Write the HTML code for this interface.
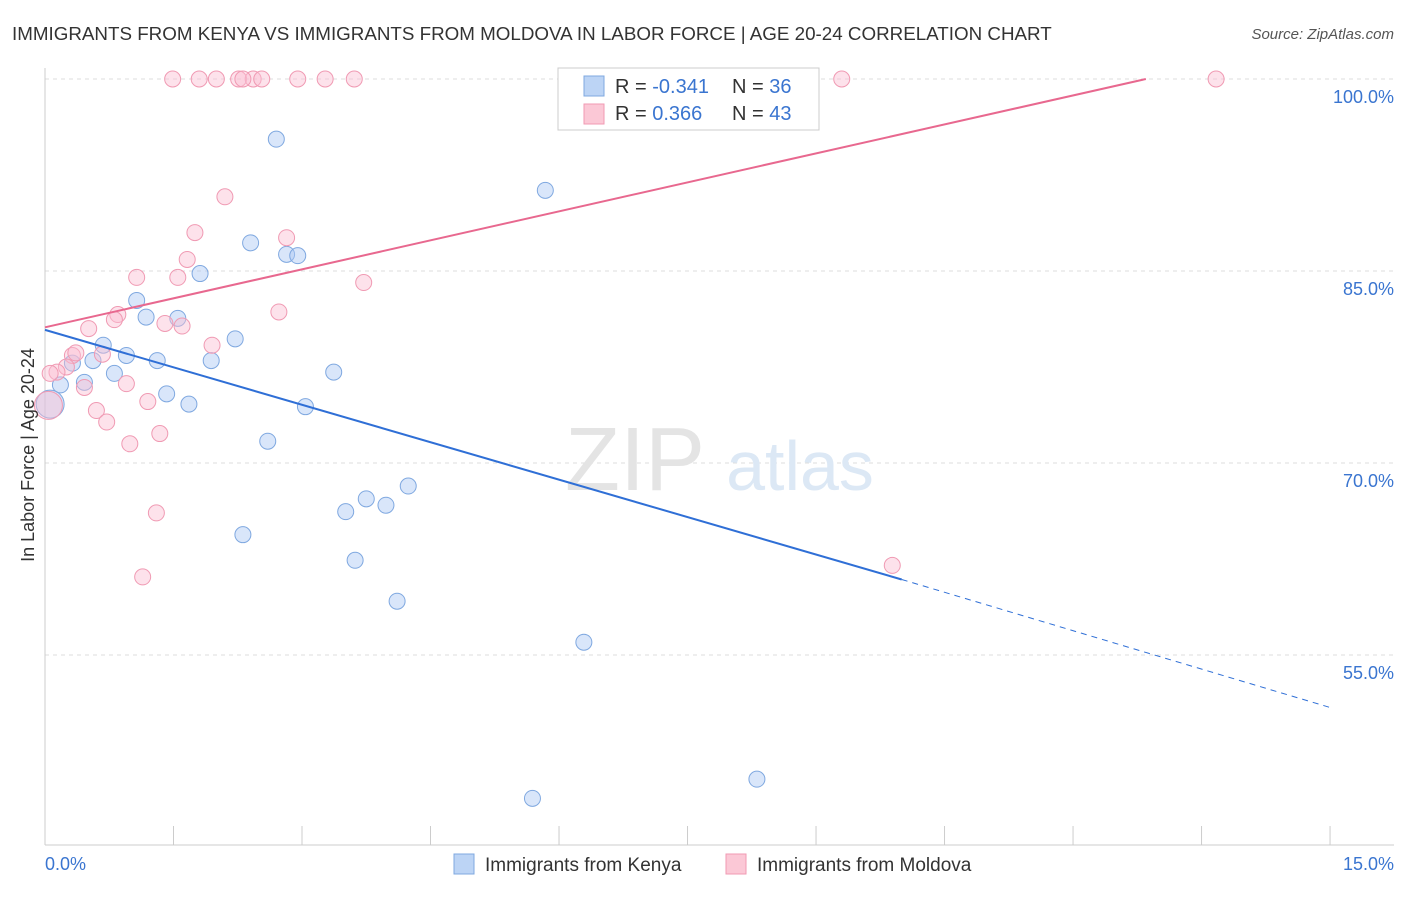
<!DOCTYPE html>
<html><head><meta charset="utf-8"><style>
body{margin:0;background:#fff;font-family:"Liberation Sans",sans-serif;}
svg text{font-family:"Liberation Sans",sans-serif;}
</style></head><body>
<svg width="1406" height="892">
<text x="12" y="40" font-size="18.8" fill="#333">IMMIGRANTS FROM KENYA VS IMMIGRANTS FROM MOLDOVA IN LABOR FORCE | AGE 20-24 CORRELATION CHART</text>
<text x="1394" y="39" font-size="15" fill="#555" text-anchor="end" font-style="italic">Source: ZipAtlas.com</text>
<g id="grid"></g>
<text x="635" y="490" font-size="90" fill="#e4e4e4" font-family="Liberation Serif" text-anchor="middle">ZIP</text>
<text x="800" y="490" font-size="70" fill="#dce8f5" text-anchor="middle">atlas</text>
<g id="axes"></g>
<g id="pts"></g>
<g id="lines"></g>
<text x="34" y="455" font-size="18" fill="#333" text-anchor="middle" transform="rotate(-90 34 455)">In Labor Force | Age 20-24</text>
<text x="45" y="870" font-size="18" fill="#3a75d0">0.0%</text>
<text x="1394" y="870" font-size="18" fill="#3a75d0" text-anchor="end">15.0%</text>
<g>
<rect x="558" y="68" width="261" height="62" fill="#fff" stroke="#ccc"/>
<rect x="584" y="76" width="20" height="20" fill="#bcd4f5" stroke="#7fa8e0"/>
<rect x="584" y="104" width="20" height="20" fill="#fbc8d6" stroke="#f09ab3"/>
<text x="615" y="93" font-size="20" fill="#333">R = <tspan fill="#3a75d0">-0.341</tspan></text>
<text x="732" y="93" font-size="20" fill="#333">N = <tspan fill="#3a75d0">36</tspan></text>
<text x="615" y="120" font-size="20" fill="#333">R = <tspan fill="#3a75d0"> 0.366</tspan></text>
<text x="732" y="120" font-size="20" fill="#333">N = <tspan fill="#3a75d0">43</tspan></text>
</g>
<g>
<rect x="454" y="854" width="20" height="20" fill="#bcd4f5" stroke="#7fa8e0"/>
<text x="485" y="871" font-size="19" fill="#333">Immigrants from Kenya</text>
<rect x="726" y="854" width="20" height="20" fill="#fbc8d6" stroke="#f09ab3"/>
<text x="757" y="871" font-size="19" fill="#333">Immigrants from Moldova</text>
</g>
</svg>
<script>
const yTicks=[100,85,70,55];
const yTickLabels=["100.0%","85.0%","70.0%","55.0%"];
const kenyaX=[2.7,5.84,2.4,2.82,2.95,1.81,1.07,1.18,1.55,2.22,0.68,0.95,0.56,1.31,1.94,0.32,0.81,3.37,0.46,0.18,0.06,1.42,1.68,3.04,2.6,4.24,3.75,3.51,3.98,2.31,3.62,4.11,6.29,8.31,5.69,7.81];
const kenyaY=[95.3,91.3,87.2,86.3,86.2,84.8,82.7,81.4,81.3,79.7,79.2,78.4,78.0,78.0,78.0,77.8,77.0,77.1,76.3,76.1,74.6,75.4,74.6,74.4,71.7,68.2,67.2,66.2,66.7,64.4,62.4,59.2,56.0,45.3,43.8,100];
const moldovaX=[1.49,1.80,2.0,2.26,2.43,2.53,2.95,3.27,3.61,9.30,13.67,2.31,2.10,1.75,2.82,1.07,1.66,1.55,3.72,2.73,0.85,0.81,1.40,1.60,0.51,1.95,0.32,0.36,0.67,0.25,0.14,0.06,0.95,0.46,1.20,0.60,0.72,1.34,0.99,1.30,1.14,9.89,0.04];
const moldovaY=[100,100,100,100,100,100,100,100,100,100,100,100,90.8,88.0,87.6,84.5,85.9,84.5,84.1,81.8,81.6,81.2,80.9,80.7,80.5,79.2,78.4,78.6,78.5,77.5,77.1,77.0,76.2,75.9,74.8,74.1,73.2,72.3,71.5,66.1,61.1,62.0,74.5];
const kenyaTrend=[0,80.4,10.0,60.9,15,50.9];
const moldovaTrend=[0,80.6,12.85,100];
const X=v=>45+v*85.67, Y=v=>79+(100-v)*12.8;
const ns="http://www.w3.org/2000/svg";
function mk(t,a,p){const e=document.createElementNS(ns,t);for(const k in a)e.setAttribute(k,a[k]);document.getElementById(p).appendChild(e);return e;}
yTicks.forEach((t,i)=>{
 const l=mk('line',{x1:45,x2:1394,y1:Y(t),y2:Y(t),stroke:'#ddd','stroke-dasharray':'4,4'},'grid');
 
 
 const tx=mk('text',{x:1394,y:Y(t)+24,'font-size':18,fill:'#3a75d0','text-anchor':'end'},'axes');
 tx.textContent=yTickLabels[i];
 
 
});
const ax=mk('line',{x1:45,x2:45,y1:68,y2:845,stroke:'#ccc'},'axes');


const bx=mk('line',{x1:45,x2:1394,y1:845,y2:845,stroke:'#ccc'},'axes');


for(let i=0;i<=10;i++){const t=mk('line',{x1:X(i*1.5),x2:X(i*1.5),y1:826,y2:845,stroke:'#ccc'},'axes');
 
 }
kenyaX.forEach((x,i)=>{const r=i==20?14:8;const c=mk('circle',{cx:X(x),cy:Y(kenyaY[i]),r:r,fill:'rgba(170,200,245,0.45)',stroke:'#7fa8e0','stroke-width':1},'pts');
 
 });
moldovaX.forEach((x,i)=>{const r=i==42?14:8;const c=mk('circle',{cx:X(x),cy:Y(moldovaY[i]),r:r,fill:'rgba(250,190,210,0.45)',stroke:'#f09ab3','stroke-width':1},'pts');
 
 });
let l1=mk('line',{x1:X(kenyaTrend[0]),y1:Y(kenyaTrend[1]),x2:X(kenyaTrend[2]),y2:Y(kenyaTrend[3]),stroke:'#2f6fd6','stroke-width':2},'lines');


let l2=mk('line',{x1:X(kenyaTrend[2]),y1:Y(kenyaTrend[3]),x2:X(kenyaTrend[4]),y2:Y(kenyaTrend[5]),stroke:'#2f6fd6','stroke-width':1,'stroke-dasharray':'6,5'},'lines');


let l3=mk('line',{x1:X(moldovaTrend[0]),y1:Y(moldovaTrend[1]),x2:X(moldovaTrend[2]),y2:Y(moldovaTrend[3]),stroke:'#e8688f','stroke-width':2},'lines');


</script>
</body></html>
